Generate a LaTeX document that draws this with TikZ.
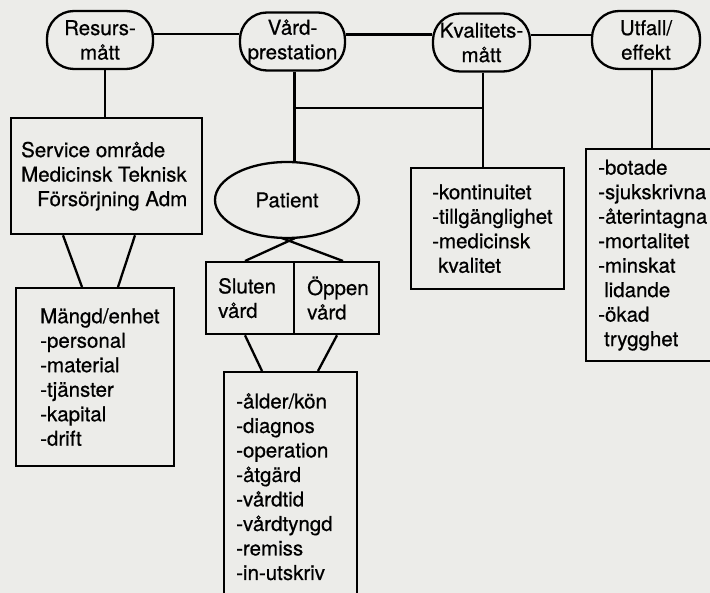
\documentclass[tikz,border=0pt]{standalone}
\usepackage{fontspec}
\setmainfont{TeX Gyre Heros}[FakeBold=0.6]
\newfontfamily\diagfont{TeX Gyre Heros}[FakeBold=0.6]
\usetikzlibrary{shapes.geometric}
\definecolor{paper}{RGB}{236,236,233}
\begin{document}
\begin{tikzpicture}[x=1pt,y=1pt,
  every node/.style={font=\diagfont\fontsize{20.5}{24.5}\selectfont, inner sep=0pt},
  lw/.style={line width=2.3pt},
  stadium/.style={draw, lw, fill=paper, rounded corners=27pt, align=center, minimum height=58pt},
  boxn/.style={draw, lw, fill=paper, anchor=north west, rectangle},
  txt/.style={anchor=west, align=left},
  conn/.style={lw}
]
\useasboundingbox (0,0) rectangle (710,-593);
\fill[paper] (0,0) rectangle (710,-593);
\clip (0,0) rectangle (710,-593);

% top row
\node[stadium, minimum width=106pt] (res) at (100,-40) {Resurs-\\mått};
\node[stadium, minimum width=105pt] (vard) at (292.5,-41.5) {Vård-\\prestation};
\node[stadium, minimum width=97pt] (kval) at (481.5,-42.5) {Kvalitets-\\mått};
\node[stadium, minimum width=108pt] (utf) at (646,-40) {Utfall/\\effekt};

% boxes
\node[boxn, minimum width=191pt, minimum height=116pt] (svc) at (10,-117) {};
\node[txt] (svctxt) at ([xshift=11pt]svc.west) {Service område\\Medicinsk Teknisk\\\hspace*{16pt}Försörjning Adm};

\node[boxn, minimum width=158pt, minimum height=178pt] (mgd) at (15,-287) {};
\node[txt] (mgdtxt) at ([xshift=25pt]mgd.west) {Mängd/enhet\\-personal\\-material\\-tjänster\\-kapital\\-drift};

\node[draw, lw, fill=paper, ellipse, minimum width=144pt, minimum height=76pt] (pat) at (287,-200) {Patient};

\node[boxn, minimum width=88pt, minimum height=72pt] (slu) at (205,-261) {};
\node[txt] (slutxt) at ([xshift=13pt]slu.west) {Sluten\\vård};
\node[boxn, minimum width=85pt, minimum height=72pt] (opp) at (293,-261) {};
\node[txt] (opptxt) at ([xshift=14pt]opp.west) {Öppen\\vård};

\node[boxn, minimum width=133pt, minimum height=229pt] (lst) at (223,-371) {};
\node[txt] (lsttxt) at ([xshift=13pt]lst.west) {-ålder/kön\\-diagnos\\-operation\\-åtgärd\\-vårdtid\\-vårdtyngd\\-remiss\\-in-utskriv};

\node[boxn, minimum width=153pt, minimum height=121pt] (kvb) at (410,-167) {};
\node[txt] (kvbtxt) at ([xshift=22pt]kvb.west) {-kontinuitet\\-tillgänglighet\\-medicinsk\\\hspace*{6pt}kvalitet};

\node[boxn, minimum width=140pt, minimum height=212pt] (utb) at (585,-148) {};
\node[txt] (utbtxt) at ([xshift=13pt]utb.west) {-botade\\-sjukskrivna\\-återintagna\\-mortalitet\\-minskat\\\hspace*{6pt}lidande\\-ökad\\\hspace*{6pt}trygghet};

% connectors top row
\draw[conn] ([yshift=6pt]res.east) -- ([yshift=6pt]res.east -| vard.west);
\draw[conn] ([yshift=7pt]vard.east) -- ([yshift=7pt]vard.east -| kval.west);
\draw[conn] ([yshift=7.5pt]kval.east) -- ([yshift=7.5pt]kval.east -| utf.west);

% verticals
\draw[conn] ([xshift=5pt]res.south) -- ([xshift=5pt]res.south |- svc.north);
\draw[conn] ([xshift=2pt]vard.south) -- ([xshift=2pt]vard.south |- pat.north);
\coordinate (j) at ([xshift=2pt]vard.south |- 0,-108);
\coordinate (kv) at ([xshift=1.5pt]kval.south);
\draw[conn] (kv) -- (kv |- kvb.north);
\draw[conn] (j) -- (j -| kv);
\draw[conn] ([xshift=6pt]utf.south) -- ([xshift=6pt]utf.south |- utb.north);

% service -> mängd
\draw[conn] ([xshift=53pt]svc.south west) -- ([xshift=67pt]mgd.north west);
\draw[conn] ([xshift=125pt]svc.south west) -- ([xshift=103pt]mgd.north west);

% patient -> sluten / öppen
\draw[conn] ([xshift=8pt,yshift=1pt]pat.south) -- ([xshift=40pt]slu.north west);
\draw[conn] ([xshift=-5pt,yshift=1pt]pat.south) -- ([xshift=50pt]opp.north west);

% sluten / öppen -> list
\draw[conn] ([xshift=40pt]slu.south west) -- ([xshift=39pt]lst.north west);
\draw[conn] ([xshift=44pt]opp.south west) -- ([xshift=95pt]lst.north west);
\end{tikzpicture}
\end{document}
